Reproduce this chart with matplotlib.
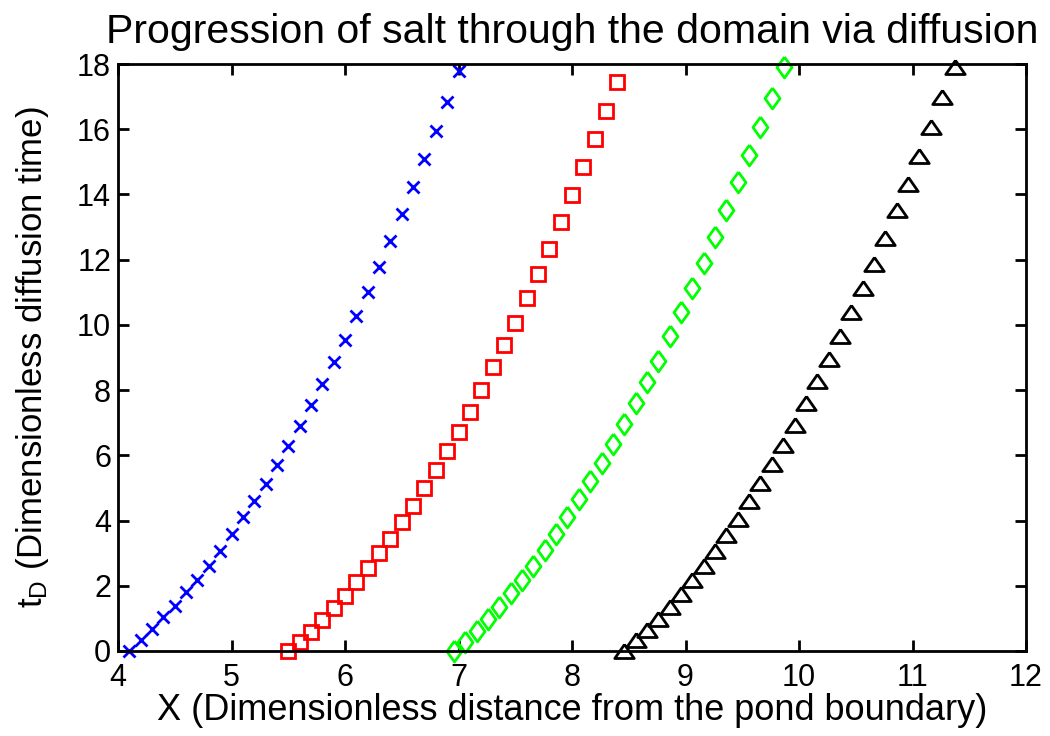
import numpy as np
import matplotlib
matplotlib.use("Agg")
import matplotlib.pyplot as plt

plt.rcParams['font.family'] = ['Liberation Sans', 'DejaVu Sans']
plt.rcParams['mathtext.fontset'] = 'custom'
plt.rcParams['mathtext.rm'] = 'Liberation Sans'
plt.rcParams['mathtext.it'] = 'Liberation Sans'

# front positions (x), step 0.1 in each series
x_blue = [4.1, 4.2, 4.3, 4.4, 4.5, 4.6, 4.7, 4.8, 4.9, 5.0,
          5.1, 5.2, 5.3, 5.4, 5.5, 5.6, 5.7, 5.8, 5.9, 6.0,
          6.1, 6.2, 6.3, 6.4, 6.5, 6.6, 6.7, 6.8, 6.9, 7.0]
t_blue = [0.0, 0.34, 0.68, 1.03, 1.38, 1.80, 2.18, 2.61, 3.08, 3.59,
          4.10, 4.59, 5.12, 5.71, 6.29, 6.91, 7.54, 8.20, 8.86, 9.55,
          10.28, 11.01, 11.79, 12.57, 13.39, 14.22, 15.08, 15.94, 16.84, 17.80]

x_red = [5.5, 5.6, 5.7, 5.8, 5.9, 6.0, 6.1, 6.2, 6.3, 6.4,
         6.5, 6.6, 6.7, 6.8, 6.9, 7.0, 7.1, 7.2, 7.3, 7.4,
         7.5, 7.6, 7.7, 7.8, 7.9, 8.0, 8.1, 8.2, 8.3, 8.4]
t_red = [0.0, 0.29, 0.59, 0.95, 1.31, 1.69, 2.13, 2.55, 3.00, 3.43,
         3.95, 4.45, 4.99, 5.55, 6.14, 6.73, 7.34, 8.01, 8.70, 9.39,
         10.07, 10.82, 11.56, 12.33, 13.15, 13.97, 14.84, 15.70, 16.57, 17.46]

x_green = [6.96, 7.06, 7.16, 7.26, 7.36, 7.46, 7.56, 7.66, 7.76, 7.86,
           7.96, 8.06, 8.16, 8.26, 8.36, 8.46, 8.56, 8.66, 8.76, 8.86,
           8.96, 9.06, 9.16, 9.26, 9.36, 9.46, 9.56, 9.66, 9.76, 9.87]
t_green = [0.0, 0.29, 0.62, 0.99, 1.36, 1.77, 2.18, 2.62, 3.10, 3.59,
           4.12, 4.65, 5.22, 5.76, 6.35, 6.96, 7.62, 8.26, 8.90, 9.66,
           10.39, 11.13, 11.91, 12.69, 13.51, 14.37, 15.21, 16.08, 16.97, 17.90]

x_black = [8.46, 8.56, 8.66, 8.76, 8.86, 8.96, 9.06, 9.16, 9.26, 9.36,
           9.46, 9.56, 9.66, 9.76, 9.86, 9.96, 10.06, 10.16, 10.26, 10.36,
           10.46, 10.56, 10.66, 10.76, 10.86, 10.96, 11.06, 11.16, 11.26, 11.37]
t_black = [0.0, 0.33, 0.65, 0.98, 1.34, 1.74, 2.17, 2.62, 3.08, 3.57,
           4.06, 4.59, 5.15, 5.72, 6.31, 6.94, 7.61, 8.28, 8.95, 9.65,
           10.41, 11.14, 11.87, 12.68, 13.51, 14.32, 15.18, 16.06, 16.98, 17.90]

# MATLAB-looking markers: tall diamond, wide triangle
diamond = [(0, 1), (0.72, 0), (0, -1), (-0.72, 0), (0, 1)]
triangle = [(0, 0.72), (1, -0.72), (-1, -0.72), (0, 0.72)]

fig = plt.figure(figsize=(10.5, 7.36), dpi=100)
ax = fig.add_axes([0.1124, 0.1155, 0.8648, 0.7975])

ax.plot(x_blue, t_blue, 'x', color='#0000ff', ms=8.5, mew=2, clip_on=False)
ax.plot(x_red, t_red, 's', color='#ff0000', mfc='none', ms=10, mew=2, clip_on=False)
ax.plot(x_green, t_green, marker=diamond, ls='none', color='#00ff00', mfc='none',
        ms=15, mew=2, clip_on=False)
ax.plot(x_black, t_black, marker=triangle, ls='none', color='black', mfc='none',
        ms=14, mew=2, clip_on=False)

ax.set_xlim(4, 12)
ax.set_ylim(0, 18)
ax.set_xticks(np.arange(4, 13, 1))
ax.set_yticks(np.arange(0, 19, 2))

for s in ax.spines.values():
    s.set_linewidth(2)
ax.tick_params(direction='in', length=8, width=2, top=True, right=True, labelsize=22)
ax.tick_params(axis='x', pad=9)
ax.tick_params(axis='y', pad=5)

ax.set_title('Progression of salt through the domain via diffusion', fontsize=29.5, pad=15)
ax.set_xlabel('X (Dimensionless distance from the pond boundary)', fontsize=26, labelpad=0)
ax.set_ylabel(r'$\mathregular{t_D}$ (Dimensionless diffusion time)', fontsize=25, labelpad=19)

fig.savefig('out.png', dpi=100)
